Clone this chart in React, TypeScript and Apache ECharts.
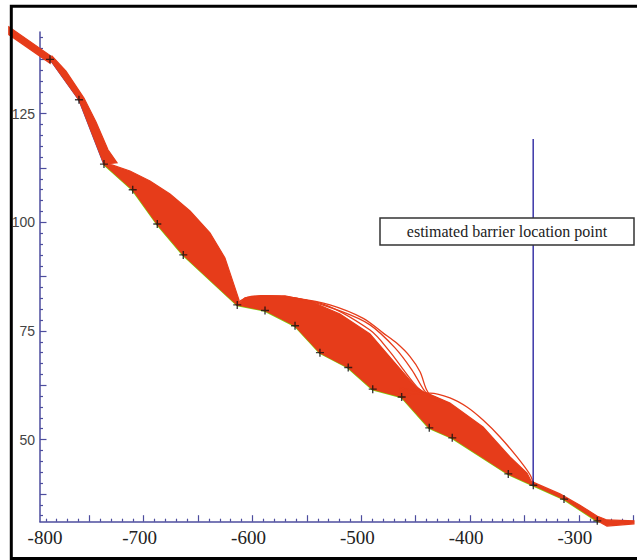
import React, { useEffect, useRef } from "react";
import * as echarts from "echarts";

// axis extents (data units)
const X_MIN = -795.3;
const X_MAX = -250;
const Y_MIN = 31.1;
const Y_MAX = 143.8;

// tick labels
const xLabelValues = [-700, -600, -500, -400, -300];
const xFirstLabel = "-800";
const yLabelValues = [50, 75, 100, 125];

// measured knot points (black + markers)
const knots: number[][] = [
  [-786.1, 137.5], [-759.5, 128.2], [-736.5, 113.4], [-710.1, 107.5], [-687.5, 99.6],
  [-663.6, 92.5], [-614.0, 81.0], [-588.5, 79.7], [-560.9, 76.2], [-538.0, 70.0],
  [-512.0, 66.6], [-489.5, 61.6], [-462.9, 59.8], [-437.5, 52.7], [-416.4, 50.4],
  [-364.9, 42.1], [-341.9, 39.5], [-313.7, 36.3], [-283.1, 31.3],
];

// original profile (blue first part, green remainder)
const blueProfile: number[][] = [[-795.3, 139.7], [-786.1, 137.5], [-759.5, 128.2], [-736.5, 113.4]];
const greenProfile: number[][] = [
  [-736.5, 113.4], [-710.1, 107.5], [-687.5, 99.6], [-663.6, 92.5], [-614.0, 81.0],
  [-588.5, 79.7], [-560.9, 76.2], [-538.0, 70.0], [-512.0, 66.6], [-489.5, 61.6],
  [-462.9, 59.8], [-437.5, 52.7], [-416.4, 50.4], [-364.9, 42.1], [-341.9, 39.5],
  [-313.7, 36.3], [-283.1, 31.3], [-262, 30.9],
];

// dense bundles of simulated curves (outline of each bundle)
const bandA: number[][] = [[-824, 145.0], [-786, 138.4], [-786, 136.6], [-824, 143.2]];
const bandB: number[][] = [
  [-786.1, 137.5], [-784.3, 138.3], [-771.4, 134.8], [-754.9, 128.6], [-743.8, 123.1],
  [-732.8, 116.7], [-724.5, 113.7], [-736.5, 113.4], [-759.5, 128.2],
];
const bandC: number[][] = [
  [-736.5, 113.4], [-729.1, 113.2], [-712.6, 111.8], [-694.2, 109.5], [-675.8, 106.5],
  [-657.4, 102.6], [-639.1, 97.6], [-625.3, 91.8], [-617.0, 85.6], [-612.4, 82.1],
  [-614.0, 81.0], [-663.6, 92.5], [-687.5, 99.6], [-710.1, 107.5],
];
const bandD: number[][] = [
  [-614.0, 81.0], [-606.9, 82.6], [-593.1, 83.1], [-570.1, 83.1], [-547.2, 81.9],
  [-519.6, 78.9], [-492.0, 74.3], [-469.0, 67.6], [-450.6, 62.3], [-436.9, 60.0],
  [-462.9, 59.8], [-489.5, 61.6], [-512.0, 66.6], [-538.0, 70.0], [-560.9, 76.2], [-588.5, 79.7],
];
const bandE: number[][] = [
  [-462.9, 59.8], [-464.4, 61.9], [-439.6, 60.7], [-418.5, 58.4], [-388.1, 52.9],
  [-363.3, 46.0], [-347.7, 42.3], [-341.9, 39.5], [-364.9, 42.1], [-416.4, 50.4], [-437.5, 52.7],
];
const bandF: number[][] = [
  [-342.2, 40.2], [-317.4, 37.5], [-299.0, 34.9], [-283.4, 32.4], [-274.2, 31.5],
  [-249.4, 31.3], [-249.4, 30.6], [-274.2, 30.1], [-283.1, 31.3], [-313.7, 36.3], [-341.9, 39.5],
];
const redBands = [bandA, bandB, bandC, bandD, bandE, bandF];

// individual outlying curves
const arcD1: number[][] = [
  [-614, 81.4], [-605, 82.7], [-590.1, 83.1], [-559.4, 82.5], [-528.8, 81.0], [-498.2, 77.9],
  [-479.8, 74.5], [-467.5, 72.2], [-455.2, 69.1], [-446.0, 65.6], [-439.9, 61.4], [-433.2, 59.3], [-420, 58.3],
];
const arcD2: number[][] = [
  [-593.1, 83.1], [-556.3, 82.4], [-519.6, 79.6], [-492.0, 76.4], [-469.0, 71.1],
  [-453.4, 66.0], [-442.4, 61.4], [-435.0, 59.6],
];
const arcD3: number[][] = [
  [-593, 82.8], [-538.0, 81.4], [-492.0, 75.2], [-473.6, 70.2], [-459.8, 65.6],
  [-447.9, 61.9], [-436.9, 59.8],
];
const arcE1: number[][] = [
  [-462.9, 60.2], [-436.9, 60.7], [-418.5, 59.6], [-402.9, 57.5], [-388.1, 54.5],
  [-372.5, 50.6], [-356.9, 46.0], [-344.9, 41.9], [-341.3, 39.5],
];
const redArcs = [arcD1, arcD2, arcD3, arcE1];

// estimated barrier location
const barrierX = -342;
const barrierY = [39.5, 119.2];
const barrierText = "estimated barrier location point";

const RED = "#e63c1a";
const AX = "#4d4d9e";

export default function App() {
  const ref = useRef<HTMLDivElement>(null);

  useEffect(() => {
    if (!ref.current) return;
    const chart = echarts.init(ref.current, undefined, { renderer: "svg" });

    const xMajorTicks: number[] = [];
    for (let v = -750; v <= -250; v += 50) xMajorTicks.push(v);
    const xMinorTicks: number[] = [];
    for (let v = -790; v <= -250; v += 10) if (v % 50 !== 0) xMinorTicks.push(v);
    const yMajorTicks: number[] = [];
    const yMinorTicks: number[] = [];
    for (let k = 13; k <= 57; k++) {
      if (k % 5 === 0) yMajorTicks.push(k * 2.5);
      else yMinorTicks.push(k * 2.5);
    }

    const lineSeries = (data: number[][], color: string, width: number, z: number, smooth: number | boolean = false) => ({
      type: "line",
      data,
      showSymbol: false,
      symbol: "none",
      smooth,
      clip: false,
      z,
      silent: true,
      lineStyle: { color, width },
    });

    const option: any = {
      animation: false,
      grid: { left: 40, right: 3.7, top: 32, bottom: 38.3, outerBoundsMode: "none", containLabel: false },
      xAxis: [
        {
          type: "value", min: X_MIN, max: X_MAX, position: "bottom",
          axisLine: { show: true, onZero: false, lineStyle: { color: AX, width: 1.5 } },
          axisTick: { show: true, inside: true, length: 3, customValues: xMinorTicks, lineStyle: { color: AX, width: 1.2 } },
          axisLabel: { show: false },
          splitLine: { show: false },
        },
        {
          type: "value", min: X_MIN, max: X_MAX, position: "bottom",
          axisLine: { show: false, onZero: false },
          axisTick: { show: true, inside: true, length: 6.5, customValues: xMajorTicks, lineStyle: { color: AX, width: 1.2 } },
          axisLabel: {
            show: true, customValues: xLabelValues, margin: 6,
            fontFamily: "Liberation Serif", fontSize: 19, color: "#222", padding: [0, 8, 0, 0],
          },
          splitLine: { show: false },
        },
      ],
      yAxis: [
        {
          type: "value", min: Y_MIN, max: Y_MAX, position: "left",
          axisLine: { show: true, onZero: false, lineStyle: { color: AX, width: 1.5 } },
          axisTick: { show: true, inside: true, length: 3, customValues: yMinorTicks, lineStyle: { color: AX, width: 1.2 } },
          axisLabel: { show: false },
          splitLine: { show: false },
        },
        {
          type: "value", min: Y_MIN, max: Y_MAX, position: "left",
          axisLine: { show: false, onZero: false },
          axisTick: { show: true, inside: true, length: 6.5, customValues: yMajorTicks, lineStyle: { color: AX, width: 1.2 } },
          axisLabel: {
            show: true, customValues: yLabelValues, margin: 5,
            fontFamily: "Liberation Sans", fontSize: 14, color: "#444",
          },
          splitLine: { show: false },
        },
      ],
      series: [
        lineSeries(blueProfile, "#4646a8", 1.6, 2),
        lineSeries(greenProfile, "#7fd00c", 2.6, 2),
        {
          type: "custom",
          z: 3,
          silent: true,
          clip: false,
          data: redBands.map((b) => b[0]),
          renderItem: (params: any, api: any) => {
            const band = redBands[params.dataIndex];
            const points = band.map((p) => api.coord(p));
            return {
              type: "polygon",
              shape: { points },
              style: { fill: RED, stroke: RED, lineWidth: 1.2 },
            };
          },
        },
        ...redArcs.map((a) => lineSeries(a, RED, 1.3, 4, 0.3)),
        {
          type: "line",
          data: [[barrierX, barrierY[0]], [barrierX, barrierY[1]]],
          showSymbol: false,
          symbol: "none",
          z: 5,
          silent: true,
          lineStyle: { color: "#3b36a8", width: 1.5 },
        },
        {
          type: "scatter",
          data: knots,
          symbol: "path://M3.3,0h1.4v3.3h3.3v1.4h-3.3v3.3h-1.4v-3.3h-3.3v-1.4h3.3z",
          symbolSize: 8,
          z: 6,
          silent: true,
          itemStyle: { color: "#111" },
        },
      ],
      graphic: [
        {
          type: "text", z: 50, x: 45, y: 537,
          style: {
            text: xFirstLabel, font: '19px "Liberation Serif"', fill: "#222",
            align: "center", verticalAlign: "middle", textAlign: "center", textVerticalAlign: "middle",
          },
        },
        {
          type: "rect", z: 60,
          shape: { x: 380, y: 218, width: 254, height: 27 },
          style: { fill: "#fff", stroke: "#333", lineWidth: 1.5 },
        },
        {
          type: "text", z: 61, x: 507, y: 231.5,
          style: {
            text: barrierText, font: '16px "Liberation Serif"', fill: "#222",
            align: "center", verticalAlign: "middle", textAlign: "center", textVerticalAlign: "middle",
          },
        },
        {
          type: "rect", z: 100,
          shape: { x: 11.3, y: 6.2, width: 640, height: 552.3 },
          style: { fill: "none", stroke: "#000", lineWidth: 3 },
        },
      ],
    };

    chart.setOption(option);
    return () => chart.dispose();
  }, []);

  return (
    <div
      ref={ref}
      style={{ position: "absolute", left: 0, top: 0, width: 637, height: 560, background: "#fff" }}
    />
  );
}
